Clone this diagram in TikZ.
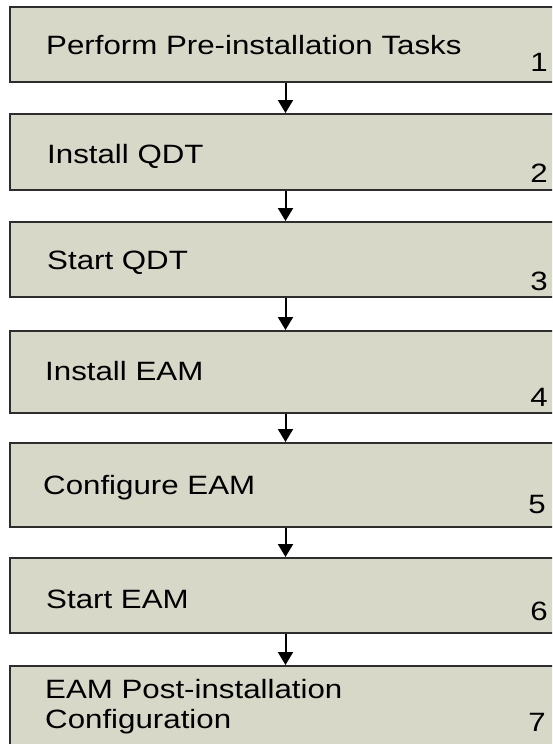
\documentclass[tikz,border=0pt]{standalone}
\usepackage{fontspec}
\setmainfont{Liberation Sans}[FakeStretch=1.18]
\usetikzlibrary{arrows.meta}
\definecolor{boxfill}{RGB}{215,216,199}
\definecolor{boxline}{RGB}{45,45,45}

\begin{document}
\begin{tikzpicture}[x=1pt,y=-1pt,
  taskbox/.style={draw=boxline,line width=2pt,fill=boxfill,inner sep=0pt,minimum width=551pt,anchor=north west},
  tasktext/.style={anchor=base west,inner sep=0pt,font=\fontsize{26.5}{30}\selectfont},
  tasknum/.style={anchor=base east,inner sep=0pt,font=\fontsize{26.5}{30}\selectfont},
  flow/.style={-{Triangle[width=15pt,length=13pt]},line width=2pt}]
\clip (0,0) rectangle (552,744);
% the seven steps, top to bottom
\node (b1) at (9,6)   [taskbox,minimum height=75pt] {};
\node (b2) at (9,113) [taskbox,minimum height=76pt] {};
\node (b3) at (9,221) [taskbox,minimum height=75pt] {};
\node (b4) at (9,330) [taskbox,minimum height=82pt] {};
\node (b5) at (9,442) [taskbox,minimum height=84pt] {};
\node (b6) at (9,557) [taskbox,minimum height=75pt] {};
\node (b7) at (9,665) [taskbox,minimum height=135pt] {};
% titles
\node (t1) at (46,54)  [tasktext] {Perform Pre-installation Tasks};
\node (t2) at (47,163) [tasktext] {Install QDT};
\node (t3) at (47,269) [tasktext] {Start QDT};
\node (t4) at (45,380) [tasktext] {Install EAM};
\node (t5) at (43,494) [tasktext] {Configure EAM};
\node (t6) at (46,608) [tasktext] {Start EAM};
\node (t7) at (45,698) [tasktext] {EAM Post-installation};
\node (t7b) at (45,728) [tasktext] {Configuration};
% step numbers
\node (n1) at (548,71)  [tasknum] {1};
\node (n2) at (548,182) [tasknum] {2};
\node (n3) at (548,290) [tasknum] {3};
\node (n4) at (548,406) [tasknum] {4};
\node (n5) at (546,513) [tasknum] {5};
\node (n6) at (548,620) [tasknum] {6};
\node (n7) at (546,731) [tasknum] {7};
% arrows between steps
\foreach \a/\b in {b1/b2,b2/b3,b3/b4,b4/b5,b5/b6,b6/b7}
  \draw[flow] (\a) -- (\b);
\end{tikzpicture}
\end{document}
